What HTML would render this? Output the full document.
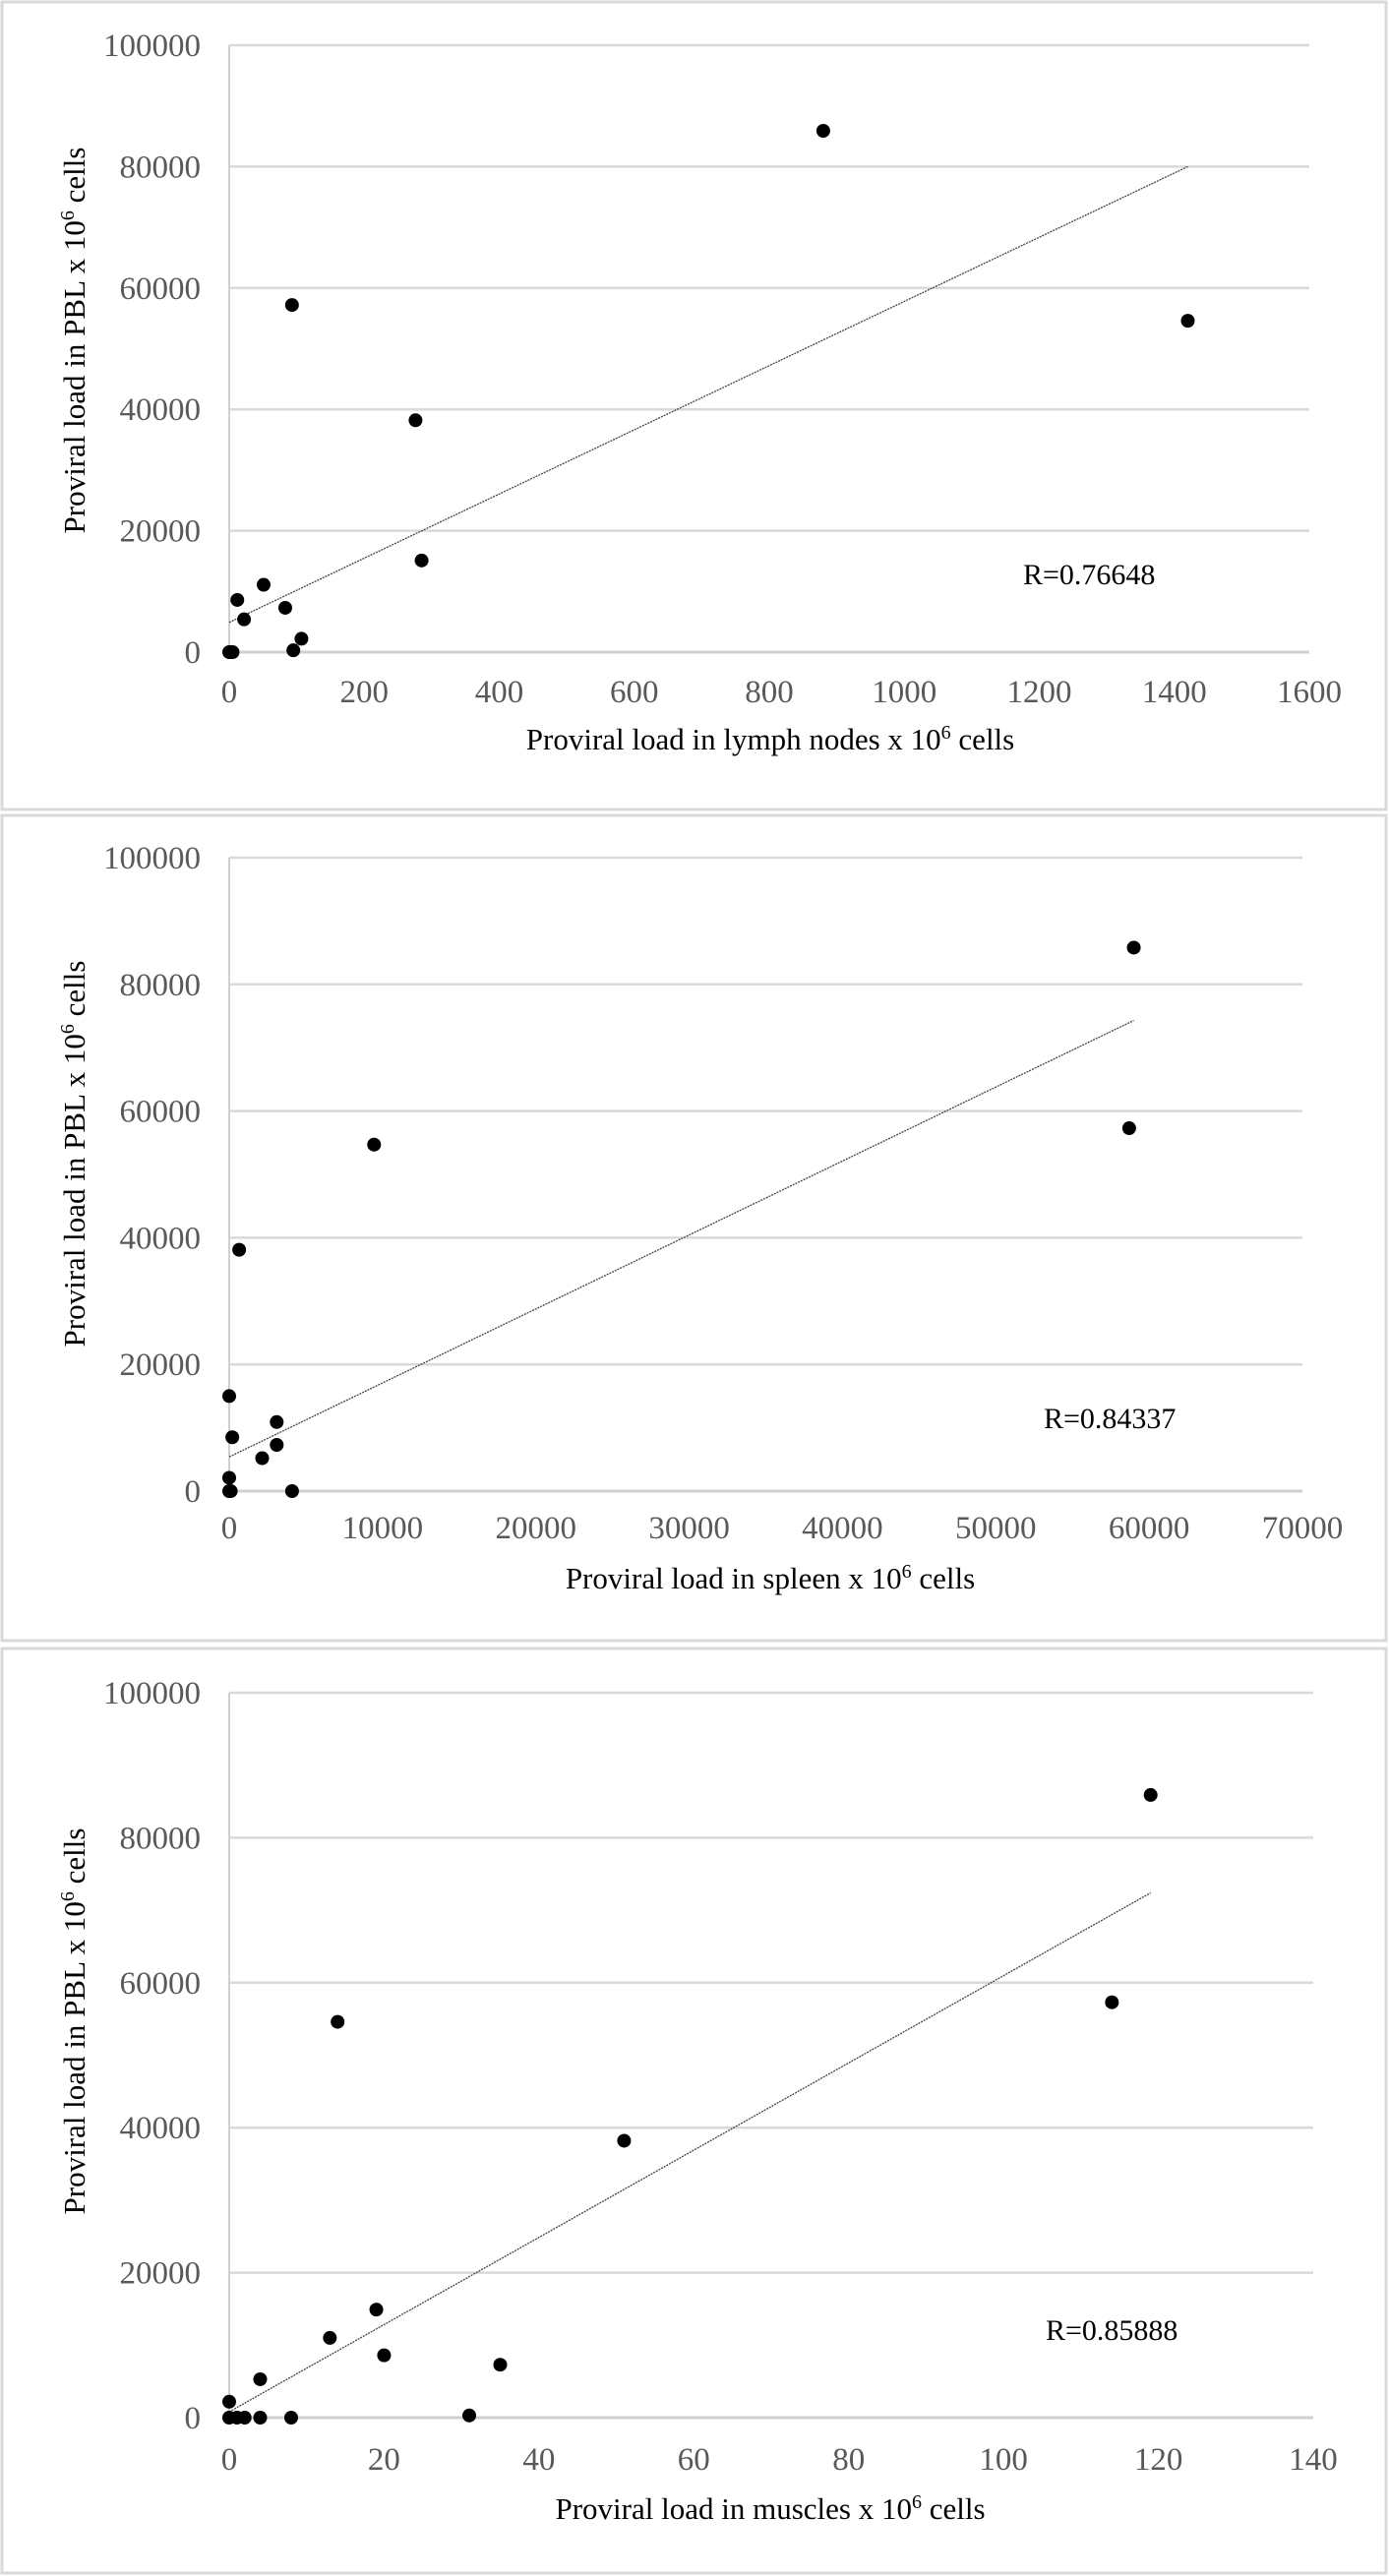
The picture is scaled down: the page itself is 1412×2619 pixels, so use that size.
<!DOCTYPE html>
<html><head><meta charset="utf-8"><style>
html,body{margin:0;padding:0;background:#fff;}
svg{display:block;font-family:"Liberation Serif",serif;}
</style></head><body>
<svg id="c" width="1412" height="2619" viewBox="0 0 1412 2619"></svg>
<script>
const ns="http://www.w3.org/2000/svg";
const svg=document.getElementById('c');
// Chart 1 data: lymph nodes
const lnX=[880,1420,93,276,285,12,51,22,83,107,95,0,5,2];
const lnY=[85900,54600,57200,38200,15100,8600,11100,5400,7300,2200,300,0,0,0];
const lnTicksX=[0,200,400,600,800,1000,1200,1400,1600];
const lnTrend=[[0,4900],[1420,80000]];
// Chart 2 data: spleen
const spX=[59000,58700,9450,650,0,200,3100,3100,2150,0,0,100,4100];
const spY=[85800,57300,54700,38100,15000,8500,10900,7300,5200,2100,0,0,0];
const spTicksX=[0,10000,20000,30000,40000,50000,60000,70000];
const spTrend=[[0,5400],[59000,74300]];
// Chart 3 data: muscles
const muX=[119,114,14,51,19,13,20,35,4,0,31,8,4,2,1,0];
const muY=[85900,57300,54600,38200,14900,11000,8600,7300,5300,2200,300,0,0,0,0,0];
const muTicksX=[0,20,40,60,80,100,120,140];
const muTrend=[[0,800],[119,72400]];
const yTicks=[0,20000,40000,60000,80000,100000];

function el(t,a,p){const e=document.createElementNS(ns,t);for(const k in a)e.setAttribute(k,a[k]);(p||svg).appendChild(e);return e;}

const charts=[
 {name:'lymph-nodes',top:0,bot:824,x0:233,x1:1331,xmax:1600,y0:663,y1:46,xs:lnX,ys:lnY,tx:lnTicksX,tr:lnTrend,rx:1040,ry:583,r:'R=0.76648',xt:'Proviral load in lymph nodes x 10',tickY:703,titleY:752,ytY:346},
 {name:'spleen',top:827,bot:1669,x0:233,x1:1324,xmax:70000,y0:1516,y1:872,xs:spX,ys:spY,tx:spTicksX,tr:spTrend,rx:1061,ry:1441,r:'R=0.84337',xt:'Proviral load in spleen x 10',tickY:1553,titleY:1605,ytY:1173},
 {name:'muscles',top:1674,bot:2617,x0:233,x1:1335,xmax:140,y0:2458,y1:1721,xs:muX,ys:muY,tx:muTicksX,tr:muTrend,rx:1063,ry:2368,r:'R=0.85888',xt:'Proviral load in muscles x 10',tickY:2500,titleY:2551,ytY:2055}
];
charts.forEach(c=>{
 const g=el('g',{});
 
 
 const X=v=>c.x0+(c.x1-c.x0)*v/c.xmax;
 const Y=v=>c.y0+(c.y1-c.y0)*v/100000;
 const fr=el('rect',{x:2,y:c.top+2,width:1407,height:c.bot-c.top-3,fill:'none',stroke:'#d9d9d9','stroke-width':3},g);
 
 
 yTicks.forEach(v=>{
  if(v>0){const l=el('line',{x1:c.x0,x2:c.x1,y1:Y(v),y2:Y(v),stroke:'#d9d9d9','stroke-width':2.5},g);
  
  }
  const t=el('text',{x:204,y:Y(v)+11,'text-anchor':'end','font-size':33,fill:'#595959'},g);
  t.textContent=v;
  
  
 });
 const ax=el('line',{x1:c.x0,x2:c.x1,y1:c.y0,y2:c.y0,stroke:'#d0d0d0','stroke-width':3},g);
 
 
 const ay=el('line',{x1:c.x0,x2:c.x0,y1:c.y1,y2:c.y0,stroke:'#d0d0d0','stroke-width':2},g);
 
 
 c.tx.forEach(v=>{
  const t=el('text',{x:X(v),y:c.tickY+11,'text-anchor':'middle','font-size':33,fill:'#595959'},g);
  t.textContent=v;
  
  
 });
 const tl=el('line',{x1:X(c.tr[0][0]),y1:Y(c.tr[0][1]),x2:X(c.tr[1][0]),y2:Y(c.tr[1][1]),stroke:'#444','stroke-width':1.3,'stroke-dasharray':'2 1'},g);
 
 
 c.xs.forEach((v,i)=>{
  const d=el('circle',{cx:X(v),cy:Y(c.ys[i]),r:7,fill:'#000'},g);
  
  
 });
 const rt=el('text',{x:c.rx,y:c.ry+11,'font-size':30,fill:'#000'},g);
 rt.textContent=c.r;
 
 
 const xt=el('text',{x:783,y:c.titleY+10,'text-anchor':'middle','font-size':31,fill:'#000'},g);
 xt.innerHTML=c.xt+'<tspan dy="-11" font-size="20">6</tspan><tspan dy="11"> cells</tspan>';
 
 
 const yt=el('text',{x:0,y:0,'text-anchor':'middle','font-size':31,fill:'#000',transform:`translate(86,${c.ytY}) rotate(-90)`},g);
 yt.innerHTML='Proviral load in PBL x 10<tspan dy="-11" font-size="20">6</tspan><tspan dy="11"> cells</tspan>';
 
 
});
</script>
</body></html>
